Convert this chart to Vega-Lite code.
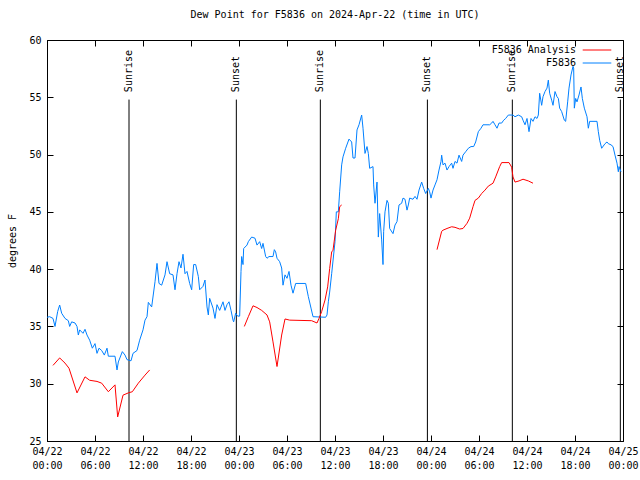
{
  "$schema": "https://vega.github.io/schema/vega-lite/v6.json",
  "width": 576,
  "height": 401,
  "autosize": "none",
  "padding": {"left": 47, "top": 40, "right": 17, "bottom": 39},
  "background": "white",
  "title": {"text": "Dew Point for F5836 on 2024-Apr-22 (time in UTC)", "font": "DejaVu Sans Mono", "fontSize": 10, "fontWeight": "normal", "anchor": "middle", "offset": 15, "color": "black"},
  "datasets": {
    "obs": [
      {"t":"2024-04-22T00:00:00Z","v":35.8,"series":"F5836","seg":0},
      {"t":"2024-04-22T00:20:00Z","v":35.85,"series":"F5836","seg":0},
      {"t":"2024-04-22T00:45:00Z","v":35.7,"series":"F5836","seg":0},
      {"t":"2024-04-22T01:00:00Z","v":35.0,"series":"F5836","seg":0},
      {"t":"2024-04-22T01:20:00Z","v":36.3,"series":"F5836","seg":0},
      {"t":"2024-04-22T01:35:00Z","v":36.87,"series":"F5836","seg":0},
      {"t":"2024-04-22T01:50:00Z","v":36.15,"series":"F5836","seg":0},
      {"t":"2024-04-22T02:15:00Z","v":35.7,"series":"F5836","seg":0},
      {"t":"2024-04-22T02:40:00Z","v":35.5,"series":"F5836","seg":0},
      {"t":"2024-04-22T02:50:00Z","v":35.0,"series":"F5836","seg":0},
      {"t":"2024-04-22T03:05:00Z","v":35.4,"series":"F5836","seg":0},
      {"t":"2024-04-22T03:30:00Z","v":35.3,"series":"F5836","seg":0},
      {"t":"2024-04-22T03:45:00Z","v":35.0,"series":"F5836","seg":0},
      {"t":"2024-04-22T03:55:00Z","v":34.25,"series":"F5836","seg":0},
      {"t":"2024-04-22T04:05:00Z","v":34.7,"series":"F5836","seg":0},
      {"t":"2024-04-22T04:30:00Z","v":34.4,"series":"F5836","seg":0},
      {"t":"2024-04-22T04:45:00Z","v":34.75,"series":"F5836","seg":0},
      {"t":"2024-04-22T05:00:00Z","v":34.25,"series":"F5836","seg":0},
      {"t":"2024-04-22T05:20:00Z","v":33.8,"series":"F5836","seg":0},
      {"t":"2024-04-22T05:40:00Z","v":33.1,"series":"F5836","seg":0},
      {"t":"2024-04-22T06:00:00Z","v":33.5,"series":"F5836","seg":0},
      {"t":"2024-04-22T06:15:00Z","v":32.65,"series":"F5836","seg":0},
      {"t":"2024-04-22T06:30:00Z","v":33.1,"series":"F5836","seg":0},
      {"t":"2024-04-22T06:50:00Z","v":32.9,"series":"F5836","seg":0},
      {"t":"2024-04-22T07:10:00Z","v":32.5,"series":"F5836","seg":0},
      {"t":"2024-04-22T07:30:00Z","v":33.1,"series":"F5836","seg":0},
      {"t":"2024-04-22T07:40:00Z","v":32.4,"series":"F5836","seg":0},
      {"t":"2024-04-22T08:30:00Z","v":32.4,"series":"F5836","seg":0},
      {"t":"2024-04-22T08:45:00Z","v":31.2,"series":"F5836","seg":0},
      {"t":"2024-04-22T08:55:00Z","v":31.9,"series":"F5836","seg":0},
      {"t":"2024-04-22T09:25:00Z","v":32.8,"series":"F5836","seg":0},
      {"t":"2024-04-22T09:45:00Z","v":32.5,"series":"F5836","seg":0},
      {"t":"2024-04-22T10:00:00Z","v":32.1,"series":"F5836","seg":0},
      {"t":"2024-04-22T10:30:00Z","v":32.0,"series":"F5836","seg":0},
      {"t":"2024-04-22T10:45:00Z","v":32.65,"series":"F5836","seg":0},
      {"t":"2024-04-22T11:15:00Z","v":32.9,"series":"F5836","seg":0},
      {"t":"2024-04-22T11:35:00Z","v":33.8,"series":"F5836","seg":0},
      {"t":"2024-04-22T12:00:00Z","v":34.7,"series":"F5836","seg":0},
      {"t":"2024-04-22T12:15:00Z","v":35.55,"series":"F5836","seg":0},
      {"t":"2024-04-22T12:30:00Z","v":35.85,"series":"F5836","seg":0},
      {"t":"2024-04-22T12:40:00Z","v":37.1,"series":"F5836","seg":0},
      {"t":"2024-04-22T13:05:00Z","v":36.7,"series":"F5836","seg":0},
      {"t":"2024-04-22T13:30:00Z","v":38.9,"series":"F5836","seg":0},
      {"t":"2024-04-22T13:45:00Z","v":40.5,"series":"F5836","seg":0},
      {"t":"2024-04-22T14:00:00Z","v":38.75,"series":"F5836","seg":0},
      {"t":"2024-04-22T14:20:00Z","v":38.6,"series":"F5836","seg":0},
      {"t":"2024-04-22T14:45:00Z","v":39.5,"series":"F5836","seg":0},
      {"t":"2024-04-22T15:00:00Z","v":40.65,"series":"F5836","seg":0},
      {"t":"2024-04-22T15:20:00Z","v":39.6,"series":"F5836","seg":0},
      {"t":"2024-04-22T15:45:00Z","v":39.5,"series":"F5836","seg":0},
      {"t":"2024-04-22T16:00:00Z","v":38.2,"series":"F5836","seg":0},
      {"t":"2024-04-22T16:15:00Z","v":39.6,"series":"F5836","seg":0},
      {"t":"2024-04-22T16:30:00Z","v":40.65,"series":"F5836","seg":0},
      {"t":"2024-04-22T16:45:00Z","v":40.1,"series":"F5836","seg":0},
      {"t":"2024-04-22T17:00:00Z","v":41.3,"series":"F5836","seg":0},
      {"t":"2024-04-22T17:15:00Z","v":39.6,"series":"F5836","seg":0},
      {"t":"2024-04-22T17:30:00Z","v":39.8,"series":"F5836","seg":0},
      {"t":"2024-04-22T17:50:00Z","v":38.75,"series":"F5836","seg":0},
      {"t":"2024-04-22T18:05:00Z","v":38.2,"series":"F5836","seg":0},
      {"t":"2024-04-22T18:20:00Z","v":40.4,"series":"F5836","seg":0},
      {"t":"2024-04-22T18:35:00Z","v":40.4,"series":"F5836","seg":0},
      {"t":"2024-04-22T18:55:00Z","v":39.35,"series":"F5836","seg":0},
      {"t":"2024-04-22T19:05:00Z","v":38.2,"series":"F5836","seg":0},
      {"t":"2024-04-22T19:30:00Z","v":38.5,"series":"F5836","seg":0},
      {"t":"2024-04-22T19:45:00Z","v":39.05,"series":"F5836","seg":0},
      {"t":"2024-04-22T20:00:00Z","v":36.7,"series":"F5836","seg":0},
      {"t":"2024-04-22T20:10:00Z","v":36.0,"series":"F5836","seg":0},
      {"t":"2024-04-22T20:20:00Z","v":37.45,"series":"F5836","seg":0},
      {"t":"2024-04-22T20:45:00Z","v":36.6,"series":"F5836","seg":0},
      {"t":"2024-04-22T21:00:00Z","v":35.7,"series":"F5836","seg":0},
      {"t":"2024-04-22T21:15:00Z","v":36.9,"series":"F5836","seg":0},
      {"t":"2024-04-22T21:35:00Z","v":36.4,"series":"F5836","seg":0},
      {"t":"2024-04-22T22:00:00Z","v":37.15,"series":"F5836","seg":0},
      {"t":"2024-04-22T22:15:00Z","v":36.4,"series":"F5836","seg":0},
      {"t":"2024-04-22T22:30:00Z","v":36.9,"series":"F5836","seg":0},
      {"t":"2024-04-22T22:45:00Z","v":37.15,"series":"F5836","seg":0},
      {"t":"2024-04-22T23:00:00Z","v":36.4,"series":"F5836","seg":0},
      {"t":"2024-04-22T23:15:00Z","v":35.55,"series":"F5836","seg":0},
      {"t":"2024-04-22T23:20:00Z","v":35.4,"series":"F5836","seg":0},
      {"t":"2024-04-22T23:35:00Z","v":36.15,"series":"F5836","seg":0},
      {"t":"2024-04-22T23:50:00Z","v":35.9,"series":"F5836","seg":0},
      {"t":"2024-04-23T00:05:00Z","v":35.9,"series":"F5836","seg":0},
      {"t":"2024-04-23T00:15:00Z","v":39.8,"series":"F5836","seg":0},
      {"t":"2024-04-23T00:20:00Z","v":41.1,"series":"F5836","seg":0},
      {"t":"2024-04-23T00:30:00Z","v":40.4,"series":"F5836","seg":0},
      {"t":"2024-04-23T00:35:00Z","v":41.8,"series":"F5836","seg":0},
      {"t":"2024-04-23T01:00:00Z","v":42.1,"series":"F5836","seg":0},
      {"t":"2024-04-23T01:10:00Z","v":42.4,"series":"F5836","seg":0},
      {"t":"2024-04-23T01:35:00Z","v":42.8,"series":"F5836","seg":0},
      {"t":"2024-04-23T02:00:00Z","v":42.7,"series":"F5836","seg":0},
      {"t":"2024-04-23T02:15:00Z","v":42.1,"series":"F5836","seg":0},
      {"t":"2024-04-23T02:35:00Z","v":42.4,"series":"F5836","seg":0},
      {"t":"2024-04-23T02:50:00Z","v":41.8,"series":"F5836","seg":0},
      {"t":"2024-04-23T03:00:00Z","v":42.25,"series":"F5836","seg":0},
      {"t":"2024-04-23T03:20:00Z","v":41.1,"series":"F5836","seg":0},
      {"t":"2024-04-23T03:30:00Z","v":40.95,"series":"F5836","seg":0},
      {"t":"2024-04-23T03:45:00Z","v":41.1,"series":"F5836","seg":0},
      {"t":"2024-04-23T04:15:00Z","v":41.1,"series":"F5836","seg":0},
      {"t":"2024-04-23T04:25:00Z","v":41.7,"series":"F5836","seg":0},
      {"t":"2024-04-23T04:35:00Z","v":41.5,"series":"F5836","seg":0},
      {"t":"2024-04-23T04:45:00Z","v":40.95,"series":"F5836","seg":0},
      {"t":"2024-04-23T05:05:00Z","v":40.65,"series":"F5836","seg":0},
      {"t":"2024-04-23T05:20:00Z","v":40.1,"series":"F5836","seg":0},
      {"t":"2024-04-23T05:30:00Z","v":38.6,"series":"F5836","seg":0},
      {"t":"2024-04-23T05:45:00Z","v":39.5,"series":"F5836","seg":0},
      {"t":"2024-04-23T06:00:00Z","v":39.2,"series":"F5836","seg":0},
      {"t":"2024-04-23T06:15:00Z","v":39.8,"series":"F5836","seg":0},
      {"t":"2024-04-23T06:30:00Z","v":38.6,"series":"F5836","seg":0},
      {"t":"2024-04-23T06:45:00Z","v":37.9,"series":"F5836","seg":0},
      {"t":"2024-04-23T07:05:00Z","v":38.75,"series":"F5836","seg":0},
      {"t":"2024-04-23T08:20:00Z","v":38.75,"series":"F5836","seg":0},
      {"t":"2024-04-23T08:40:00Z","v":37.6,"series":"F5836","seg":0},
      {"t":"2024-04-23T09:00:00Z","v":36.6,"series":"F5836","seg":0},
      {"t":"2024-04-23T09:15:00Z","v":35.85,"series":"F5836","seg":0},
      {"t":"2024-04-23T10:50:00Z","v":35.8,"series":"F5836","seg":0},
      {"t":"2024-04-23T11:00:00Z","v":36.0,"series":"F5836","seg":0},
      {"t":"2024-04-23T11:10:00Z","v":37.15,"series":"F5836","seg":0},
      {"t":"2024-04-23T11:20:00Z","v":38.0,"series":"F5836","seg":0},
      {"t":"2024-04-23T11:35:00Z","v":39.6,"series":"F5836","seg":0},
      {"t":"2024-04-23T12:00:00Z","v":42.4,"series":"F5836","seg":0},
      {"t":"2024-04-23T12:10:00Z","v":45.0,"series":"F5836","seg":0},
      {"t":"2024-04-23T12:25:00Z","v":45.0,"series":"F5836","seg":0},
      {"t":"2024-04-23T12:35:00Z","v":46.75,"series":"F5836","seg":0},
      {"t":"2024-04-23T12:50:00Z","v":49.1,"series":"F5836","seg":0},
      {"t":"2024-04-23T13:00:00Z","v":49.8,"series":"F5836","seg":0},
      {"t":"2024-04-23T13:20:00Z","v":50.55,"series":"F5836","seg":0},
      {"t":"2024-04-23T13:45:00Z","v":51.35,"series":"F5836","seg":0},
      {"t":"2024-04-23T14:05:00Z","v":51.1,"series":"F5836","seg":0},
      {"t":"2024-04-23T14:15:00Z","v":49.7,"series":"F5836","seg":0},
      {"t":"2024-04-23T14:30:00Z","v":49.7,"series":"F5836","seg":0},
      {"t":"2024-04-23T14:45:00Z","v":52.15,"series":"F5836","seg":0},
      {"t":"2024-04-23T15:00:00Z","v":52.6,"series":"F5836","seg":0},
      {"t":"2024-04-23T15:20:00Z","v":53.45,"series":"F5836","seg":0},
      {"t":"2024-04-23T15:30:00Z","v":52.3,"series":"F5836","seg":0},
      {"t":"2024-04-23T15:45:00Z","v":50.1,"series":"F5836","seg":0},
      {"t":"2024-04-23T16:00:00Z","v":50.7,"series":"F5836","seg":0},
      {"t":"2024-04-23T16:10:00Z","v":50.1,"series":"F5836","seg":0},
      {"t":"2024-04-23T16:20:00Z","v":48.8,"series":"F5836","seg":0},
      {"t":"2024-04-23T16:45:00Z","v":48.95,"series":"F5836","seg":0},
      {"t":"2024-04-23T16:50:00Z","v":47.35,"series":"F5836","seg":0},
      {"t":"2024-04-23T17:00:00Z","v":45.75,"series":"F5836","seg":0},
      {"t":"2024-04-23T17:15:00Z","v":47.6,"series":"F5836","seg":0},
      {"t":"2024-04-23T17:25:00Z","v":42.8,"series":"F5836","seg":0},
      {"t":"2024-04-23T17:35:00Z","v":44.85,"series":"F5836","seg":0},
      {"t":"2024-04-23T17:50:00Z","v":42.55,"series":"F5836","seg":0},
      {"t":"2024-04-23T18:00:00Z","v":40.4,"series":"F5836","seg":0},
      {"t":"2024-04-23T18:05:00Z","v":43.3,"series":"F5836","seg":0},
      {"t":"2024-04-23T18:15:00Z","v":45.0,"series":"F5836","seg":0},
      {"t":"2024-04-23T18:30:00Z","v":46.0,"series":"F5836","seg":0},
      {"t":"2024-04-23T18:40:00Z","v":45.75,"series":"F5836","seg":0},
      {"t":"2024-04-23T18:50:00Z","v":43.55,"series":"F5836","seg":0},
      {"t":"2024-04-23T19:15:00Z","v":43.1,"series":"F5836","seg":0},
      {"t":"2024-04-23T19:30:00Z","v":43.85,"series":"F5836","seg":0},
      {"t":"2024-04-23T19:45:00Z","v":44.15,"series":"F5836","seg":0},
      {"t":"2024-04-23T20:00:00Z","v":45.6,"series":"F5836","seg":0},
      {"t":"2024-04-23T20:20:00Z","v":45.75,"series":"F5836","seg":0},
      {"t":"2024-04-23T20:30:00Z","v":46.2,"series":"F5836","seg":0},
      {"t":"2024-04-23T20:45:00Z","v":46.1,"series":"F5836","seg":0},
      {"t":"2024-04-23T21:00:00Z","v":45.15,"series":"F5836","seg":0},
      {"t":"2024-04-23T21:10:00Z","v":45.6,"series":"F5836","seg":0},
      {"t":"2024-04-23T21:20:00Z","v":46.2,"series":"F5836","seg":0},
      {"t":"2024-04-23T21:45:00Z","v":46.1,"series":"F5836","seg":0},
      {"t":"2024-04-23T22:00:00Z","v":46.35,"series":"F5836","seg":0},
      {"t":"2024-04-23T22:15:00Z","v":46.1,"series":"F5836","seg":0},
      {"t":"2024-04-23T22:30:00Z","v":46.9,"series":"F5836","seg":0},
      {"t":"2024-04-23T22:50:00Z","v":47.6,"series":"F5836","seg":0},
      {"t":"2024-04-23T23:05:00Z","v":47.05,"series":"F5836","seg":0},
      {"t":"2024-04-23T23:20:00Z","v":46.6,"series":"F5836","seg":0},
      {"t":"2024-04-23T23:40:00Z","v":47.05,"series":"F5836","seg":0},
      {"t":"2024-04-23T23:50:00Z","v":46.75,"series":"F5836","seg":0},
      {"t":"2024-04-24T00:00:00Z","v":46.2,"series":"F5836","seg":0},
      {"t":"2024-04-24T00:15:00Z","v":46.9,"series":"F5836","seg":0},
      {"t":"2024-04-24T00:30:00Z","v":47.35,"series":"F5836","seg":0},
      {"t":"2024-04-24T00:45:00Z","v":47.8,"series":"F5836","seg":0},
      {"t":"2024-04-24T01:00:00Z","v":48.65,"series":"F5836","seg":0},
      {"t":"2024-04-24T01:15:00Z","v":49.4,"series":"F5836","seg":0},
      {"t":"2024-04-24T01:20:00Z","v":49.95,"series":"F5836","seg":0},
      {"t":"2024-04-24T01:30:00Z","v":49.1,"series":"F5836","seg":0},
      {"t":"2024-04-24T01:45:00Z","v":49.25,"series":"F5836","seg":0},
      {"t":"2024-04-24T02:00:00Z","v":48.65,"series":"F5836","seg":0},
      {"t":"2024-04-24T02:15:00Z","v":48.95,"series":"F5836","seg":0},
      {"t":"2024-04-24T02:35:00Z","v":49.25,"series":"F5836","seg":0},
      {"t":"2024-04-24T02:45:00Z","v":48.8,"series":"F5836","seg":0},
      {"t":"2024-04-24T03:00:00Z","v":49.4,"series":"F5836","seg":0},
      {"t":"2024-04-24T03:15:00Z","v":49.25,"series":"F5836","seg":0},
      {"t":"2024-04-24T03:30:00Z","v":49.95,"series":"F5836","seg":0},
      {"t":"2024-04-24T03:50:00Z","v":49.4,"series":"F5836","seg":0},
      {"t":"2024-04-24T04:00:00Z","v":49.95,"series":"F5836","seg":0},
      {"t":"2024-04-24T04:20:00Z","v":50.25,"series":"F5836","seg":0},
      {"t":"2024-04-24T04:40:00Z","v":50.55,"series":"F5836","seg":0},
      {"t":"2024-04-24T05:00:00Z","v":50.7,"series":"F5836","seg":0},
      {"t":"2024-04-24T05:20:00Z","v":50.7,"series":"F5836","seg":0},
      {"t":"2024-04-24T05:35:00Z","v":51.1,"series":"F5836","seg":0},
      {"t":"2024-04-24T05:55:00Z","v":52.0,"series":"F5836","seg":0},
      {"t":"2024-04-24T06:15:00Z","v":52.3,"series":"F5836","seg":0},
      {"t":"2024-04-24T06:30:00Z","v":52.6,"series":"F5836","seg":0},
      {"t":"2024-04-24T07:20:00Z","v":52.6,"series":"F5836","seg":0},
      {"t":"2024-04-24T07:35:00Z","v":52.75,"series":"F5836","seg":0},
      {"t":"2024-04-24T07:45:00Z","v":52.9,"series":"F5836","seg":0},
      {"t":"2024-04-24T08:00:00Z","v":52.6,"series":"F5836","seg":0},
      {"t":"2024-04-24T08:15:00Z","v":52.3,"series":"F5836","seg":0},
      {"t":"2024-04-24T08:30:00Z","v":52.75,"series":"F5836","seg":0},
      {"t":"2024-04-24T08:50:00Z","v":52.75,"series":"F5836","seg":0},
      {"t":"2024-04-24T09:05:00Z","v":53.0,"series":"F5836","seg":0},
      {"t":"2024-04-24T09:20:00Z","v":53.15,"series":"F5836","seg":0},
      {"t":"2024-04-24T09:40:00Z","v":53.45,"series":"F5836","seg":0},
      {"t":"2024-04-24T10:15:00Z","v":53.45,"series":"F5836","seg":0},
      {"t":"2024-04-24T10:30:00Z","v":53.3,"series":"F5836","seg":0},
      {"t":"2024-04-24T10:55:00Z","v":53.45,"series":"F5836","seg":0},
      {"t":"2024-04-24T11:20:00Z","v":53.3,"series":"F5836","seg":0},
      {"t":"2024-04-24T11:30:00Z","v":53.0,"series":"F5836","seg":0},
      {"t":"2024-04-24T11:45:00Z","v":52.6,"series":"F5836","seg":0},
      {"t":"2024-04-24T12:00:00Z","v":53.15,"series":"F5836","seg":0},
      {"t":"2024-04-24T12:15:00Z","v":52.0,"series":"F5836","seg":0},
      {"t":"2024-04-24T12:30:00Z","v":53.15,"series":"F5836","seg":0},
      {"t":"2024-04-24T12:45:00Z","v":52.9,"series":"F5836","seg":0},
      {"t":"2024-04-24T13:00:00Z","v":53.3,"series":"F5836","seg":0},
      {"t":"2024-04-24T13:15:00Z","v":53.15,"series":"F5836","seg":0},
      {"t":"2024-04-24T13:25:00Z","v":53.45,"series":"F5836","seg":0},
      {"t":"2024-04-24T13:35:00Z","v":55.35,"series":"F5836","seg":0},
      {"t":"2024-04-24T13:50:00Z","v":54.3,"series":"F5836","seg":0},
      {"t":"2024-04-24T14:00:00Z","v":55.05,"series":"F5836","seg":0},
      {"t":"2024-04-24T14:15:00Z","v":55.5,"series":"F5836","seg":0},
      {"t":"2024-04-24T14:30:00Z","v":55.8,"series":"F5836","seg":0},
      {"t":"2024-04-24T14:40:00Z","v":56.5,"series":"F5836","seg":0},
      {"t":"2024-04-24T14:50:00Z","v":55.35,"series":"F5836","seg":0},
      {"t":"2024-04-24T15:05:00Z","v":54.75,"series":"F5836","seg":0},
      {"t":"2024-04-24T15:15:00Z","v":54.3,"series":"F5836","seg":0},
      {"t":"2024-04-24T15:30:00Z","v":55.5,"series":"F5836","seg":0},
      {"t":"2024-04-24T15:45:00Z","v":55.05,"series":"F5836","seg":0},
      {"t":"2024-04-24T15:55:00Z","v":54.9,"series":"F5836","seg":0},
      {"t":"2024-04-24T16:05:00Z","v":54.05,"series":"F5836","seg":0},
      {"t":"2024-04-24T16:20:00Z","v":53.75,"series":"F5836","seg":0},
      {"t":"2024-04-24T16:40:00Z","v":53.0,"series":"F5836","seg":0},
      {"t":"2024-04-24T16:50:00Z","v":52.9,"series":"F5836","seg":0},
      {"t":"2024-04-24T17:05:00Z","v":54.6,"series":"F5836","seg":0},
      {"t":"2024-04-24T17:15:00Z","v":55.8,"series":"F5836","seg":0},
      {"t":"2024-04-24T17:30:00Z","v":56.95,"series":"F5836","seg":0},
      {"t":"2024-04-24T17:45:00Z","v":57.7,"series":"F5836","seg":0},
      {"t":"2024-04-24T17:50:00Z","v":57.55,"series":"F5836","seg":0},
      {"t":"2024-04-24T17:55:00Z","v":54.05,"series":"F5836","seg":0},
      {"t":"2024-04-24T18:05:00Z","v":54.9,"series":"F5836","seg":0},
      {"t":"2024-04-24T18:15:00Z","v":54.6,"series":"F5836","seg":0},
      {"t":"2024-04-24T18:30:00Z","v":55.2,"series":"F5836","seg":0},
      {"t":"2024-04-24T18:45:00Z","v":55.9,"series":"F5836","seg":0},
      {"t":"2024-04-24T18:55:00Z","v":54.9,"series":"F5836","seg":0},
      {"t":"2024-04-24T19:10:00Z","v":54.05,"series":"F5836","seg":0},
      {"t":"2024-04-24T19:30:00Z","v":53.3,"series":"F5836","seg":0},
      {"t":"2024-04-24T19:40:00Z","v":52.3,"series":"F5836","seg":0},
      {"t":"2024-04-24T19:50:00Z","v":52.9,"series":"F5836","seg":0},
      {"t":"2024-04-24T20:45:00Z","v":52.9,"series":"F5836","seg":0},
      {"t":"2024-04-24T20:55:00Z","v":52.0,"series":"F5836","seg":0},
      {"t":"2024-04-24T21:05:00Z","v":51.25,"series":"F5836","seg":0},
      {"t":"2024-04-24T21:20:00Z","v":50.55,"series":"F5836","seg":0},
      {"t":"2024-04-24T21:45:00Z","v":50.95,"series":"F5836","seg":0},
      {"t":"2024-04-24T22:00:00Z","v":51.1,"series":"F5836","seg":0},
      {"t":"2024-04-24T22:10:00Z","v":50.95,"series":"F5836","seg":0},
      {"t":"2024-04-24T22:30:00Z","v":50.85,"series":"F5836","seg":0},
      {"t":"2024-04-24T22:45:00Z","v":50.7,"series":"F5836","seg":0},
      {"t":"2024-04-24T23:00:00Z","v":49.95,"series":"F5836","seg":0},
      {"t":"2024-04-24T23:15:00Z","v":49.25,"series":"F5836","seg":0},
      {"t":"2024-04-24T23:25:00Z","v":48.5,"series":"F5836","seg":0},
      {"t":"2024-04-24T23:30:00Z","v":48.95,"series":"F5836","seg":0},
      {"t":"2024-04-24T23:45:00Z","v":48.5,"series":"F5836","seg":0},
      {"t":"2024-04-22T00:45:00Z","v":31.6,"series":"F5836 Analysis","seg":1},
      {"t":"2024-04-22T01:35:00Z","v":32.25,"series":"F5836 Analysis","seg":1},
      {"t":"2024-04-22T02:15:00Z","v":31.8,"series":"F5836 Analysis","seg":1},
      {"t":"2024-04-22T02:45:00Z","v":31.35,"series":"F5836 Analysis","seg":1},
      {"t":"2024-04-22T03:45:00Z","v":29.2,"series":"F5836 Analysis","seg":1},
      {"t":"2024-04-22T04:45:00Z","v":30.6,"series":"F5836 Analysis","seg":1},
      {"t":"2024-04-22T05:20:00Z","v":30.3,"series":"F5836 Analysis","seg":1},
      {"t":"2024-04-22T06:15:00Z","v":30.2,"series":"F5836 Analysis","seg":1},
      {"t":"2024-04-22T06:50:00Z","v":30.05,"series":"F5836 Analysis","seg":1},
      {"t":"2024-04-22T07:40:00Z","v":29.3,"series":"F5836 Analysis","seg":1},
      {"t":"2024-04-22T08:30:00Z","v":29.9,"series":"F5836 Analysis","seg":1},
      {"t":"2024-04-22T08:50:00Z","v":27.1,"series":"F5836 Analysis","seg":1},
      {"t":"2024-04-22T09:30:00Z","v":29.0,"series":"F5836 Analysis","seg":1},
      {"t":"2024-04-22T10:10:00Z","v":29.2,"series":"F5836 Analysis","seg":1},
      {"t":"2024-04-22T10:40:00Z","v":29.3,"series":"F5836 Analysis","seg":1},
      {"t":"2024-04-22T11:25:00Z","v":30.05,"series":"F5836 Analysis","seg":1},
      {"t":"2024-04-22T12:15:00Z","v":30.75,"series":"F5836 Analysis","seg":1},
      {"t":"2024-04-22T12:50:00Z","v":31.2,"series":"F5836 Analysis","seg":1},
      {"t":"2024-04-23T00:40:00Z","v":35.0,"series":"F5836 Analysis","seg":2},
      {"t":"2024-04-23T01:10:00Z","v":35.85,"series":"F5836 Analysis","seg":2},
      {"t":"2024-04-23T01:45:00Z","v":36.8,"series":"F5836 Analysis","seg":2},
      {"t":"2024-04-23T02:15:00Z","v":36.65,"series":"F5836 Analysis","seg":2},
      {"t":"2024-04-23T02:50:00Z","v":36.4,"series":"F5836 Analysis","seg":2},
      {"t":"2024-04-23T03:30:00Z","v":36.0,"series":"F5836 Analysis","seg":2},
      {"t":"2024-04-23T03:50:00Z","v":35.4,"series":"F5836 Analysis","seg":2},
      {"t":"2024-04-23T04:15:00Z","v":33.65,"series":"F5836 Analysis","seg":2},
      {"t":"2024-04-23T04:45:00Z","v":31.5,"series":"F5836 Analysis","seg":2},
      {"t":"2024-04-23T05:20:00Z","v":34.25,"series":"F5836 Analysis","seg":2},
      {"t":"2024-04-23T05:45:00Z","v":35.65,"series":"F5836 Analysis","seg":2},
      {"t":"2024-04-23T06:20:00Z","v":35.55,"series":"F5836 Analysis","seg":2},
      {"t":"2024-04-23T09:05:00Z","v":35.5,"series":"F5836 Analysis","seg":2},
      {"t":"2024-04-23T09:45:00Z","v":35.3,"series":"F5836 Analysis","seg":2},
      {"t":"2024-04-23T10:00:00Z","v":35.7,"series":"F5836 Analysis","seg":2},
      {"t":"2024-04-23T10:20:00Z","v":36.3,"series":"F5836 Analysis","seg":2},
      {"t":"2024-04-23T10:45:00Z","v":37.3,"series":"F5836 Analysis","seg":2},
      {"t":"2024-04-23T11:05:00Z","v":38.45,"series":"F5836 Analysis","seg":2},
      {"t":"2024-04-23T11:20:00Z","v":40.05,"series":"F5836 Analysis","seg":2},
      {"t":"2024-04-23T11:35:00Z","v":41.5,"series":"F5836 Analysis","seg":2},
      {"t":"2024-04-23T11:45:00Z","v":41.65,"series":"F5836 Analysis","seg":2},
      {"t":"2024-04-23T12:05:00Z","v":43.4,"series":"F5836 Analysis","seg":2},
      {"t":"2024-04-23T12:25:00Z","v":44.4,"series":"F5836 Analysis","seg":2},
      {"t":"2024-04-23T12:35:00Z","v":45.45,"series":"F5836 Analysis","seg":2},
      {"t":"2024-04-23T12:50:00Z","v":45.6,"series":"F5836 Analysis","seg":2},
      {"t":"2024-04-24T00:45:00Z","v":41.7,"series":"F5836 Analysis","seg":3},
      {"t":"2024-04-24T01:20:00Z","v":43.3,"series":"F5836 Analysis","seg":3},
      {"t":"2024-04-24T01:30:00Z","v":43.4,"series":"F5836 Analysis","seg":3},
      {"t":"2024-04-24T02:00:00Z","v":43.55,"series":"F5836 Analysis","seg":3},
      {"t":"2024-04-24T02:35:00Z","v":43.7,"series":"F5836 Analysis","seg":3},
      {"t":"2024-04-24T03:00:00Z","v":43.65,"series":"F5836 Analysis","seg":3},
      {"t":"2024-04-24T03:35:00Z","v":43.5,"series":"F5836 Analysis","seg":3},
      {"t":"2024-04-24T04:00:00Z","v":43.55,"series":"F5836 Analysis","seg":3},
      {"t":"2024-04-24T04:30:00Z","v":44.0,"series":"F5836 Analysis","seg":3},
      {"t":"2024-04-24T04:50:00Z","v":44.45,"series":"F5836 Analysis","seg":3},
      {"t":"2024-04-24T05:15:00Z","v":45.45,"series":"F5836 Analysis","seg":3},
      {"t":"2024-04-24T05:30:00Z","v":46.0,"series":"F5836 Analysis","seg":3},
      {"t":"2024-04-24T05:55:00Z","v":46.2,"series":"F5836 Analysis","seg":3},
      {"t":"2024-04-24T06:20:00Z","v":46.6,"series":"F5836 Analysis","seg":3},
      {"t":"2024-04-24T06:45:00Z","v":46.9,"series":"F5836 Analysis","seg":3},
      {"t":"2024-04-24T07:10:00Z","v":47.25,"series":"F5836 Analysis","seg":3},
      {"t":"2024-04-24T07:45:00Z","v":47.5,"series":"F5836 Analysis","seg":3},
      {"t":"2024-04-24T08:05:00Z","v":48.05,"series":"F5836 Analysis","seg":3},
      {"t":"2024-04-24T08:35:00Z","v":48.95,"series":"F5836 Analysis","seg":3},
      {"t":"2024-04-24T08:50:00Z","v":49.3,"series":"F5836 Analysis","seg":3},
      {"t":"2024-04-24T09:45:00Z","v":49.3,"series":"F5836 Analysis","seg":3},
      {"t":"2024-04-24T10:05:00Z","v":48.9,"series":"F5836 Analysis","seg":3},
      {"t":"2024-04-24T10:15:00Z","v":48.05,"series":"F5836 Analysis","seg":3},
      {"t":"2024-04-24T10:30:00Z","v":47.6,"series":"F5836 Analysis","seg":3},
      {"t":"2024-04-24T11:00:00Z","v":47.7,"series":"F5836 Analysis","seg":3},
      {"t":"2024-04-24T11:30:00Z","v":47.85,"series":"F5836 Analysis","seg":3},
      {"t":"2024-04-24T12:10:00Z","v":47.7,"series":"F5836 Analysis","seg":3},
      {"t":"2024-04-24T12:45:00Z","v":47.5,"series":"F5836 Analysis","seg":3}
    ],
    "events": [
      {"t":"2024-04-22T10:15:00Z","label":"Sunrise"},
      {"t":"2024-04-22T23:40:00Z","label":"Sunset"},
      {"t":"2024-04-23T10:10:00Z","label":"Sunrise"},
      {"t":"2024-04-23T23:33:00Z","label":"Sunset"},
      {"t":"2024-04-24T10:10:00Z","label":"Sunrise"},
      {"t":"2024-04-24T23:40:00Z","label":"Sunset"}
    ]
  },
  "layer": [
    {
      "data": {"name": "events"},
      "mark": {"type": "rule", "color": "black", "strokeWidth": 1},
      "encoding": {
        "x": {"field": "t", "type": "temporal"},
        "y": {"datum": 54.8, "type": "quantitative"},
        "y2": {"datum": 25}
      }
    },
    {
      "data": {"name": "events"},
      "mark": {"type": "text", "angle": 270, "align": "left", "baseline": "middle", "font": "DejaVu Sans Mono", "fontSize": 10, "color": "black"},
      "encoding": {
        "x": {"field": "t", "type": "temporal"},
        "y": {"datum": 55.45, "type": "quantitative"},
        "text": {"field": "label"}
      }
    },
    {
      "data": {"name": "obs"},
      "mark": {"type": "line", "strokeWidth": 1},
      "encoding": {
        "x": {"field": "t", "type": "temporal",
              "scale": {"type": "utc", "domain": [{"year": 2024, "month": 4, "date": 22, "utc": true}, {"year": 2024, "month": 4, "date": 25, "utc": true}]},
              "axis": {"orient": "bottom", "title": null,
                       "values": [1713744000000, 1713765600000, 1713787200000, 1713808800000, 1713830400000, 1713852000000, 1713873600000, 1713895200000, 1713916800000, 1713938400000, 1713960000000, 1713981600000, 1714003200000],
                       "labelExpr": "[utcFormat(datum.value, '%m/%d'), utcFormat(datum.value, '%H:%M')]",
                       "labelLineHeight": 14, "labelBaseline": "top", "labelPadding": 5, "ticks": false,
                       "labelFlush": false, "labelOverlap": false,
                       "grid": true, "gridColor": "black", "gridOpacity": 1, "gridWidth": 1, "gridDash": [6, 389]}},
        "y": {"field": "v", "type": "quantitative",
              "scale": {"domain": [25, 60], "nice": false, "zero": false},
              "axis": {"orient": "left", "title": "degrees F", "values": [25, 30, 35, 40, 45, 50, 55, 60],
                       "ticks": false, "labelPadding": 6, "titlePadding": 11,
                       "grid": true, "gridColor": "black", "gridOpacity": 1, "gridWidth": 1, "gridDash": [6, 564]}},
        "color": {"field": "series", "type": "nominal",
                  "scale": {"domain": ["F5836 Analysis", "F5836"], "range": ["#ff0000", "#0080ff"]},
                  "legend": {"title": null, "orient": "none", "legendX": 543, "legendY": 3, "symbolType": "M-2.2,0H2.2", "symbolSize": 169, "symbolStrokeWidth": 1,
                             "labelAlign": "right", "labelOffset": -28, "rowPadding": 1,
                             "labelFont": "DejaVu Sans Mono", "labelFontSize": 10, "labelColor": "black"}},
        "detail": {"field": "seg", "type": "nominal"}
      }
    }
  ],
  "config": {
    "view": {"stroke": "black", "strokeWidth": 1},
    "axis": {"domainColor": "black", "tickColor": "black", "labelColor": "black", "titleColor": "black",
             "labelFont": "DejaVu Sans Mono", "labelFontSize": 10, "titleFont": "DejaVu Sans Mono", "titleFontSize": 10, "titleFontWeight": "normal"}
  }
}
